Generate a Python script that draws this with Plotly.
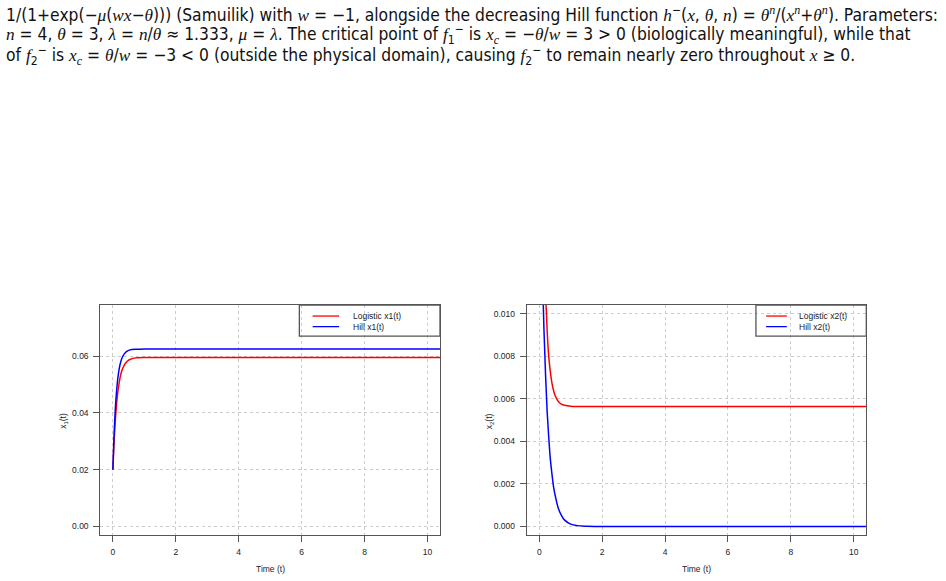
import plotly.graph_objects as go

# ---------------- data ----------------
t1 = [0, 0.025, 0.05, 0.075, 0.1, 0.15, 0.2, 0.25, 0.3, 0.4, 0.5, 0.6, 0.8,
      1.0, 1.5, 2, 3, 4, 5, 6, 7, 8, 9, 10, 11]
hill_x1 = [0.0200, 0.0285, 0.0354, 0.0409, 0.0452, 0.0515, 0.0555, 0.0580,
           0.0596, 0.0613, 0.0620, 0.0623, 0.0624, 0.0625, 0.0625, 0.0625,
           0.0625, 0.0625, 0.0625, 0.0625, 0.0625, 0.0625, 0.0625, 0.0625, 0.0625]
logistic_x1 = [0.0200, 0.0268, 0.0324, 0.0370, 0.0408, 0.0467, 0.0507, 0.0535,
               0.0554, 0.0575, 0.0586, 0.0591, 0.0594, 0.0595, 0.0595, 0.0595,
               0.0595, 0.0595, 0.0595, 0.0595, 0.0595, 0.0595, 0.0595, 0.0595, 0.0595]

t2 = [0, 0.05, 0.1, 0.15, 0.2, 0.25, 0.3, 0.35, 0.4, 0.45, 0.5, 0.6, 0.7, 0.8,
      1.0, 1.2, 1.5, 2, 3, 4, 5, 6, 7, 8, 9, 10, 11]
logistic_x2 = [0.0200, 0.0175, 0.0150, 0.0128, 0.0110, 0.0092, 0.0080, 0.00728,
               0.00676, 0.00641, 0.00616, 0.00588, 0.00575, 0.00569, 0.00564,
               0.00563, 0.00563, 0.00563, 0.00563, 0.00563, 0.00563, 0.00563,
               0.00563, 0.00563, 0.00563, 0.00563, 0.00563]
hill_x2 = [0.0200, 0.0154, 0.0119, 0.0092, 0.0071, 0.0054, 0.0042, 0.0032,
           0.0025, 0.0019, 0.0015, 0.00088, 0.00053, 0.00031, 0.00011,
           0.00004, 0.00001, 0, 0, 0, 0, 0, 0, 0, 0, 0, 0]

x_ticks = [0, 2, 4, 6, 8, 10]
y1_ticks = [0.00, 0.02, 0.04, 0.06]
y2_ticks = [0.000, 0.002, 0.004, 0.006, 0.008, 0.010]

legend1 = ["Logistic x1(t)", "Hill x1(t)"]
legend2 = ["Logistic x2(t)", "Hill x2(t)"]

caption_lines = [
    "1/(1+exp(−{mu}({w}{x}−{th}))) (Samuilik) with {w} = −1, alongside the decreasing Hill function "
    "{h}<sup>−</sup>({x}, {th}, {n}) = {th}<sup>{n}</sup>/({x}<sup>{n}</sup>+{th}<sup>{n}</sup>). Parameters:",
    "{n} = 4, {th} = 3, {la} = {n}/{th} ≈ 1.333, {mu} = {la}. The critical point of {f}<sub>1</sub><sup>−</sup> "
    "is {x}<sub>{c}</sub> = −{th}/{w} = 3 &gt; 0 (biologically meaningful), while that",
    "of {f}<sub>2</sub><sup>−</sup> is {x}<sub>{c}</sub> = {th}/{w} = −3 &lt; 0 (outside the physical domain), "
    "causing {f}<sub>2</sub><sup>−</sup> to remain nearly zero throughout {x} ≥ 0.",
]

# ---------------- styling ----------------
W, H = 946, 581
RED, BLUE = "#ff0000", "#0000ff"
AX = "#555555"
TXT = "#222222"
FONT = "Liberation Sans, Arial, sans-serif"
SMALL = 8.5

def m(s):
    return "<span style='font-family:Liberation Serif'><i>%s</i></span>" % s

sym = dict(mu=m("μ"), w=m("w"), x=m("x"), th=m("θ"), h=m("h"), n=m("n"),
           la=m("λ"), f=m("f"), c=m("c"))

# plot boxes in pixels
box1 = (100.3, 440.0, 305.0, 535.0)
box2 = (526.7, 866.3, 305.0, 535.0)

def dom(b):
    return [b[0] / W, b[1] / W], [(H - b[3]) / H, (H - b[2]) / H]

xd1, yd1 = dom(box1)
xd2, yd2 = dom(box2)

fig = go.Figure()
fig.add_trace(go.Scatter(x=t1, y=logistic_x1, mode="lines", line=dict(color=RED, width=1.5, shape="spline"),
                         xaxis="x", yaxis="y", showlegend=False))
fig.add_trace(go.Scatter(x=t1, y=hill_x1, mode="lines", line=dict(color=BLUE, width=1.5, shape="spline"),
                         xaxis="x", yaxis="y", showlegend=False))
fig.add_trace(go.Scatter(x=t2, y=logistic_x2, mode="lines", line=dict(color=RED, width=1.5, shape="spline"),
                         xaxis="x2", yaxis="y2", showlegend=False))
fig.add_trace(go.Scatter(x=t2, y=hill_x2, mode="lines", line=dict(color=BLUE, width=1.5, shape="spline"),
                         xaxis="x2", yaxis="y2", showlegend=False))

axis_common = dict(showline=True, linecolor=AX, linewidth=1, mirror=True, ticks="outside",
                   ticklen=6, tickcolor=AX, tickwidth=1, showgrid=True, gridcolor="#cccccc",
                   griddash="dot", gridwidth=1, zeroline=False,
                   tickfont=dict(family=FONT, size=SMALL, color=TXT), ticklabelstandoff=3)

fig.update_layout(
    width=W, height=H, margin=dict(l=0, r=0, t=0, b=0),
    paper_bgcolor="white", plot_bgcolor="white", showlegend=False,
    xaxis=dict(domain=xd1, range=[-0.4, 10.4], tickvals=x_ticks, anchor="y", **axis_common),
    yaxis=dict(domain=yd1, range=[-0.003, 0.078], tickvals=y1_ticks, tickformat=".2f", anchor="x", **axis_common),
    xaxis2=dict(domain=xd2, range=[-0.4, 10.4], tickvals=x_ticks, anchor="y2", **axis_common),
    yaxis2=dict(domain=yd2, range=[-0.0004, 0.0104], tickvals=y2_ticks, tickformat=".3f", anchor="x2", **axis_common),
)

ann = []
shapes = []
# axis titles
for b, ylab in ((box1, "x<sub>1</sub>(t)"), (box2, "x<sub>2</sub>(t)")):
    ann.append(dict(text="Time (t)", x=((b[0] + b[1]) / 2) / W, y=(H - 569) / H, xref="paper", yref="paper",
                    showarrow=False, xanchor="center", yanchor="middle",
                    font=dict(family=FONT, size=SMALL, color=TXT)))
    ann.append(dict(text=ylab, x=(b[0] - 37.5) / W, y=(H - 421) / H, xref="paper", yref="paper",
                    showarrow=False, textangle=-90, xanchor="center", yanchor="middle",
                    font=dict(family=FONT, size=SMALL, color=TXT)))

# legends
for (xr, yr, labels, lx0, lx1, tx, bx0) in (
        ("x domain", "y domain", legend1, 0.625, 0.703, 0.737, 0.586),
        ("x2 domain", "y2 domain", legend2, 0.705, 0.766, 0.795, 0.675)):
    shapes.append(dict(type="rect", xref=xr, yref=yr, x0=bx0, x1=1.0, y0=0.865, y1=1.0,
                       line=dict(color=AX, width=1.3), fillcolor="rgba(0,0,0,0)"))
    for lab, col, yy in zip(labels, (RED, BLUE), (0.952, 0.906)):
        shapes.append(dict(type="line", xref=xr, yref=yr, x0=lx0, x1=lx1, y0=yy, y1=yy,
                           line=dict(color=col, width=1.3)))
        ann.append(dict(text=lab, xref=xr, yref=yr, x=tx, y=yy, showarrow=False,
                        xanchor="left", yanchor="middle", font=dict(family=FONT, size=SMALL, color=TXT)))

# caption
for i, line in enumerate(caption_lines):
    ann.append(dict(text=line.format(**sym), x=4 / W, y=(H - (13.5 + 21 * i)) / H, xref="paper", yref="paper",
                    showarrow=False, xanchor="left", yanchor="middle",
                    font=dict(family="DejaVu Sans Condensed, Liberation Sans Narrow, Liberation Sans", size=17.3,
                              color="#111111")))

fig.update_layout(annotations=ann, shapes=shapes)
fig.write_html("out.html")
